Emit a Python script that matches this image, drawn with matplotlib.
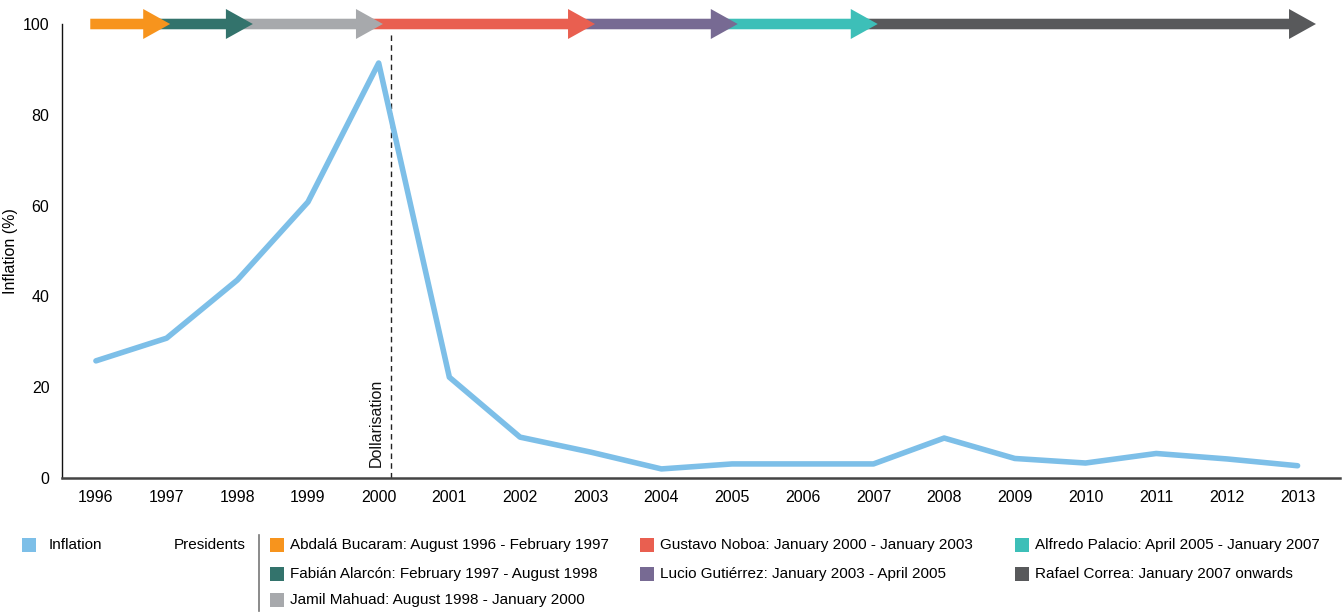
import matplotlib.pyplot as plt
from matplotlib.patches import Rectangle

plt.rcParams['font.family'] = ['Liberation Sans Narrow', 'Liberation Sans', 'DejaVu Sans']

years = list(range(1996, 2014))
inflation = [25.8, 30.8, 43.6, 60.8, 91.4, 22.2, 9.0, 5.7, 2.0, 3.1, 3.1, 3.1,
             8.8, 4.3, 3.3, 5.4, 4.2, 2.7]

presidents = ['Abdalá Bucaram: August 1996 - February 1997',
              'Fabián Alarcón: February 1997 - August 1998',
              'Jamil Mahuad: August 1998 - January 2000',
              'Gustavo Noboa: January 2000 - January 2003',
              'Lucio Gutiérrez: January 2003 - April 2005',
              'Alfredo Palacio: April 2005 - January 2007',
              'Rafael Correa: January 2007 onwards']
term_start = [1995.92, 1996.75, 1997.9, 1999.75, 2002.7, 2004.75, 2006.7]
term_end = [1997.05, 1998.22, 2000.06, 2003.06, 2005.08, 2007.06, 2013.26]
colors = ['#F7941D', '#33736C', '#A7A9AC', '#E95F50', '#776A93', '#3DBFB8', '#58595B']
dollarisation = 2000.17

fig = plt.figure(figsize=(13.44, 6.12), dpi=100)
ax = fig.add_axes([62/1344, 1-478/612, (1340-62)/1344, (478-24)/612])

ax.plot(years, inflation, color='#7DBFE8', lw=4, solid_capstyle='round', zorder=3)

# president arrows, earlier ones drawn on top
for i in range(len(presidents) - 1, -1, -1):
    ax.annotate('', xy=(term_end[i], 100), xytext=(term_start[i], 100),
                arrowprops=dict(arrowstyle='simple,head_length=0.97,head_width=1.08,tail_width=0.38',
                                mutation_scale=20, color=colors[i], lw=0,
                                shrinkA=0, shrinkB=0),
                annotation_clip=False, zorder=5 + (len(presidents) - i))

ax.plot([dollarisation, dollarisation], [0, 98.5], color='#222222', lw=1, ls=(0, (4, 3)), zorder=2)
ax.text(dollarisation - 0.2, 2.5, 'Dollarisation', rotation=90, ha='center', va='bottom',
        fontsize=11.5, color='#111111')

ax.set_xlim(1995.52, 2013.6)
ax.set_ylim(0, 100)
ax.set_xticks(years)
ax.set_yticks([0, 20, 40, 60, 80, 100])
ax.tick_params(length=0, labelsize=11.5, pad=9)
ax.tick_params(axis='x', pad=9)
for s in ['top', 'right']:
    ax.spines[s].set_visible(False)
ax.spines['left'].set_color('#111111')
ax.spines['left'].set_linewidth(1)
ax.spines['bottom'].set_color('#444444')
ax.spines['bottom'].set_linewidth(1.8)
ax.set_ylabel('Inflation (%)', fontsize=11.5)
ax.yaxis.set_label_coords((18-62)/1278, 0.5)

# legend
W, H = 1344, 612
def patch(px, py, c):
    fig.patches.append(Rectangle((px/W, 1-(py+7)/H), 14/W, 14/H, transform=fig.transFigure,
                                 color=c, lw=0))

patch(22, 545, '#7DBFE8')
fig.text(49/W, 1-545/H, 'Inflation', fontsize=11, va='center')
fig.text(246/W, 1-545/H, 'Presidents', fontsize=11, va='center', ha='right')
fig.add_artist(plt.Line2D([259/W, 259/W], [1-535/H, 1-611/H], color='#777777', lw=1.2))

cols = [270, 270, 270, 640, 640, 1015, 1015]
rows = [545, 574, 600, 545, 574, 545, 574]
for name, c, px, py in zip(presidents, colors, cols, rows):
    patch(px, py, c)
    fig.text((px+20)/W, 1-py/H, name, fontsize=11, va='center')

fig.savefig('out.png', dpi=100)
